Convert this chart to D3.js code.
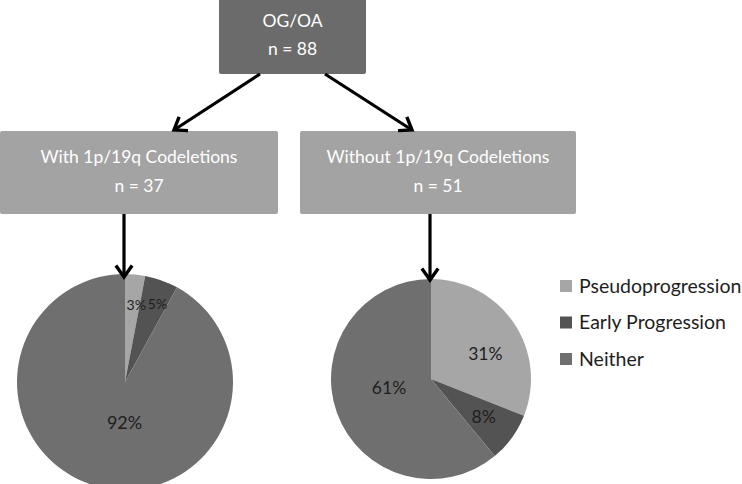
<!DOCTYPE html>
<html><head><meta charset="utf-8">
<script src="https://cdn.jsdelivr.net/npm/d3@7"></script>
<style>html,body{margin:0;padding:0;background:#fff;}svg{display:block;}</style>
</head><body>
<svg id="chart" width="742" height="484"></svg>
<script>
// ---- data ----
const categories = ["Pseudoprogression", "Early Progression", "Neither"];
const withCodel = [3, 5, 92];
const withoutCodel = [31, 8, 61];
const rootLabel = ["OG/OA", "n = 88"];
const leftLabel = ["With 1p/19q Codeletions", "n = 37"];
const rightLabel = ["Without 1p/19q Codeletions", "n = 51"];

const colors = d3.scaleOrdinal().domain(categories).range(["#a6a6a6", "#535353", "#6f6f6f"]);
const svg = d3.select("#chart");
const FONT = "Lato, 'Open Sans', sans-serif";

// ---- boxes ----
function box(x, y, w, h, fill, lines, ys) {
  svg.append("rect").attr("x", x).attr("y", y).attr("width", w).attr("height", h)
    .attr("rx", 2).attr("fill", fill);
  lines.forEach((t, i) => {
    svg.append("text").attr("x", x + w / 2).attr("y", ys[i]).attr("text-anchor", "middle")
      .attr("fill", "#fff").attr("font-family", FONT).attr("font-size", 17.5).text(t);
  });
}
box(219, -4, 147, 78, "#6b6b6b", rootLabel, [27, 55]);
box(0, 131, 278, 83, "#a3a3a3", leftLabel, [163, 192]);
box(300, 131, 276, 83, "#a3a3a3", rightLabel, [163, 192]);

// ---- arrows ----
function arrow(x1, y1, x2, y2) {
  svg.append("line").attr("x1", x1).attr("y1", y1).attr("x2", x2).attr("y2", y2)
    .attr("stroke", "#000").attr("stroke-width", 3.2);
  const a = Math.atan2(y2 - y1, x2 - x1);
  const L = 14, sp = 0.62;
  const p1 = [x2 - L * Math.cos(a - sp), y2 - L * Math.sin(a - sp)];
  const p2 = [x2 - L * Math.cos(a + sp), y2 - L * Math.sin(a + sp)];
  svg.append("path").attr("d", `M${p1}L${x2},${y2}L${p2}`)
    .attr("fill", "none").attr("stroke", "#000").attr("stroke-width", 3.4)
    .attr("stroke-linejoin", "miter").attr("stroke-linecap", "butt");
}

// ---- pies ----
const pie = d3.pie().sort(null).value(d => d.v);
function drawPie(cx, cy, r, values, labelR, labelShift, fsizes) {
  const g = svg.append("g").attr("transform", `translate(${cx},${cy})`);
  const arcs = pie(values.map((v, i) => ({ v, c: categories[i] })));
  const arc = d3.arc().innerRadius(0).outerRadius(r);
  g.selectAll("path").data(arcs).join("path").attr("d", arc).attr("fill", d => colors(d.data.c));
  g.selectAll("text").data(arcs).join("text")
    .attr("transform", (d, i) => {
      const la = d3.arc().innerRadius(labelR[i] * r).outerRadius(labelR[i] * r);
      const m = (d.startAngle + d.endAngle) / 2 + labelShift[i];
      const c = la.centroid({ startAngle: m, endAngle: m });
      return `translate(${c})`;
    })
    .attr("text-anchor", "middle").attr("dy", "0.35em")
    .attr("font-family", FONT).attr("font-size", (d, i) => fsizes[i]).attr("fill", "#1e1e1e")
    .text(d => d.data.v + "%");
}
drawPie(125, 382, 108, withCodel, [0.72, 0.78, 0.38], [0.05, 0.05, -0.24], [14, 14, 18]);
drawPie(431, 379, 100, withoutCodel, [0.6, 0.65, 0.43], [0.16, 0, 0.13], [17.5, 17.5, 17.5]);

arrow(260, 74, 174, 130);
arrow(325, 74, 412, 130);
arrow(124, 214, 124, 277);
arrow(430, 214, 430, 280);

// ---- legend ----
const lg = svg.append("g");
const ly = d3.scalePoint().domain(categories).range([286, 359]);
lg.selectAll("rect").data(categories).join("rect")
  .attr("x", 560).attr("y", d => ly(d) - 6).attr("width", 12).attr("height", 12)
  .attr("fill", d => colors(d));
lg.selectAll("text").data(categories).join("text")
  .attr("x", 579).attr("y", d => ly(d)).attr("dy", "0.35em")
  .attr("font-family", FONT).attr("font-size", 19.5).attr("fill", "#1e1e1e").text(d => d);
</script>
</body></html>
